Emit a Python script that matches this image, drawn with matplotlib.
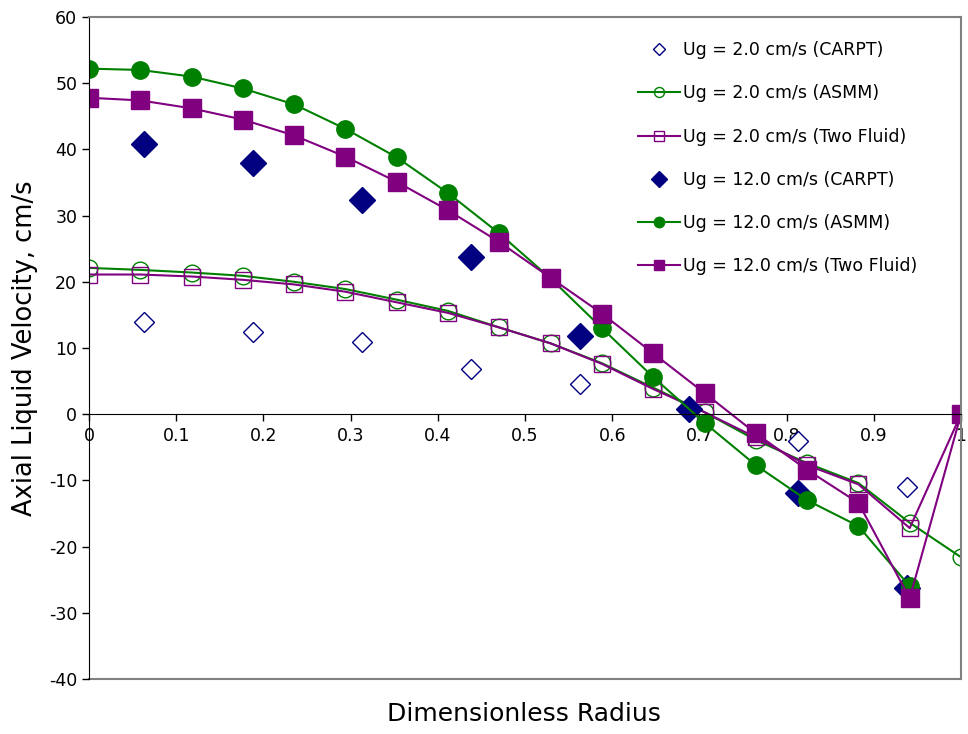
import matplotlib
matplotlib.use("Agg")
import matplotlib.pyplot as plt
import numpy as np

# radial positions
x_model = [i / 17 for i in range(18)]
x_carpt = [0.0625, 0.1875, 0.3125, 0.4375, 0.5625, 0.6875, 0.8125, 0.9375]

# Ug = 2.0 cm/s
carpt_2 = [13.9, 12.4, 10.9, 6.9, 4.6, 1.0, -4.0, -11.0]
asmm_2 = [22.1, 21.8, 21.4, 20.9, 20.0, 18.9, 17.3, 15.6, 13.1, 10.7,
          7.7, 4.0, 0.3, -3.9, -7.4, -10.4, -16.4, -21.6]
tf_2 = [21.1, 21.1, 20.8, 20.3, 19.6, 18.5, 16.9, 15.3, 13.1, 10.7,
        7.6, 3.8, 0.3, -3.5, -7.7, -10.6, -17.2, 0.0]

# Ug = 12.0 cm/s
carpt_12 = [40.8, 38.0, 32.3, 23.7, 11.8, 0.8, -11.9, -26.3]
asmm_12 = [52.2, 52.0, 51.0, 49.2, 46.8, 43.1, 38.8, 33.4, 27.3, 20.5,
           13.0, 5.6, -1.3, -7.7, -13.0, -16.9, -26.0]
tf_12 = [47.8, 47.4, 46.2, 44.5, 42.1, 38.9, 35.1, 30.8, 26.0, 20.6,
         15.2, 9.2, 3.2, -2.9, -8.4, -13.4, -27.8, 0.0]

labels = ["Ug = 2.0 cm/s (CARPT)", "Ug = 2.0 cm/s (ASMM)", "Ug = 2.0 cm/s (Two Fluid)",
          "Ug = 12.0 cm/s (CARPT)", "Ug = 12.0 cm/s (ASMM)", "Ug = 12.0 cm/s (Two Fluid)"]

navy = "#000080"
green = "#008000"
purple = "#800080"

plt.rcParams['font.family'] = ['DejaVu Sans']
plt.rcParams['axes.unicode_minus'] = False

fig = plt.figure(figsize=(9.68, 7.34), dpi=100)
ax = fig.add_axes([89 / 968, 55 / 734, 872 / 968, 662 / 734])

ax.plot(x_carpt, carpt_2, ls="none", marker="D", ms=10, mfc="white", mec=navy, mew=1.0, label=labels[0])
ax.plot(x_model, asmm_2, color=green, lw=1.5, marker="o", ms=12, mfc="none", mec=green, mew=1.0, label=labels[1])
ax.plot(x_model, tf_2, color=purple, lw=1.5, marker="s", ms=11.5, mfc="none", mec=purple, mew=1.0, label=labels[2])
ax.plot(x_carpt, carpt_12, ls="none", marker="D", ms=13, color=navy, mec=navy, label=labels[3])
ax.plot(x_model[:len(asmm_12)], asmm_12, color=green, lw=1.5, marker="o", ms=12.5, label=labels[4])
ax.plot(x_model, tf_12, color=purple, lw=1.5, marker="s", ms=12.5, label=labels[5])

ax.set_xlim(0, 1)
ax.set_ylim(-40, 60)
ax.set_xticks(np.arange(0, 1.01, 0.1))
ax.set_xticklabels(["0", "0.1", "0.2", "0.3", "0.4", "0.5", "0.6", "0.7", "0.8", "0.9", "1"])
ax.set_yticks(range(-40, 61, 10))

# excel style: x axis crosses at zero, grey plot-area border
ax.spines['bottom'].set_position(('data', 0))
ax.spines['bottom'].set_color('black')
ax.spines['left'].set_color('black')
for s in ['top', 'right']:
    ax.spines[s].set_color('#808080')
    ax.spines[s].set_linewidth(1.5)
ax.axhline(-40, color='#808080', lw=1.5, clip_on=False, zorder=0)

ax.tick_params(axis='both', direction='out', length=5, width=1, labelsize=12.5)
ax.tick_params(axis='x', pad=4)

ax.set_ylabel("Axial Liquid Velocity, cm/s", fontsize=18.5, labelpad=8)
fig.text(524 / 968, 1 - 714 / 734, "Dimensionless Radius", fontsize=18, ha='center', va='center')

leg = ax.legend(loc='upper left', bbox_to_anchor=(0.612, 0.987), frameon=False,
                fontsize=12.5, labelspacing=1.45, handlelength=2.4, handletextpad=0.2,
                markerscale=0.6)

fig.savefig("out.png", dpi=100)
